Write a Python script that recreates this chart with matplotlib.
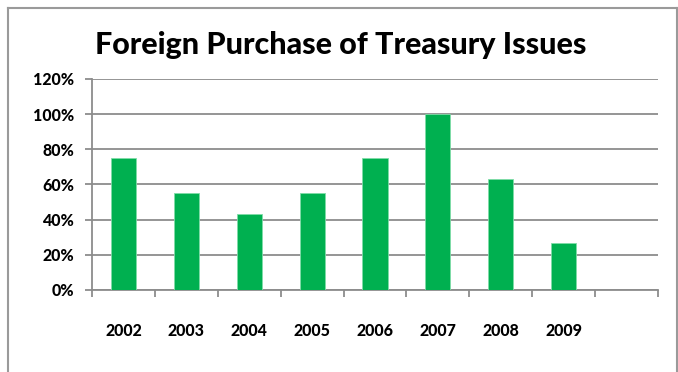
import matplotlib
matplotlib.use("Agg")
import matplotlib.pyplot as plt
import numpy as np

years = ["2002", "2003", "2004", "2005", "2006", "2007", "2008", "2009", ""]
values = [75, 55, 43, 55, 75, 100, 63, 27, None]
y_ticks = [0, 20, 40, 60, 80, 100, 120]
y_labels = [f"{t}%" for t in y_ticks]
title = "Foreign Purchase of Treasury Issues"

plt.rcParams['font.family'] = ['Lato', 'DejaVu Sans']

W, H = 678, 372
fig = plt.figure(figsize=(W / 100, H / 100), dpi=100)
fig.patch.set_facecolor("white")

# chart border (open at bottom)
grey = "#9a9a9a"
fig.add_artist(plt.Line2D([8 / W, 8 / W], [0, 1 - 7.5 / H], transform=fig.transFigure, color=grey, lw=1.5))
fig.add_artist(plt.Line2D([8 / W, 676.5 / W], [1 - 7.5 / H, 1 - 7.5 / H], transform=fig.transFigure, color=grey, lw=1.5))
fig.add_artist(plt.Line2D([676.5 / W, 676.5 / W], [0, 1 - 7.5 / H], transform=fig.transFigure, color=grey, lw=1.5))

left, right, top, bottom = 92, 658, 79, 290
ax = fig.add_axes([left / W, 1 - bottom / H, (right - left) / W, (bottom - top) / H])

n = len(years)
x = np.arange(n)
vals = [v if v is not None else 0 for v in values]
ax.bar(x[:8], vals[:8], width=0.4, color="#00B050", edgecolor="#7fdca8", linewidth=0.6, zorder=3)

ax.set_xlim(-0.5, n - 0.5)
ax.set_ylim(0, 120)
ax.set_yticks(y_ticks)
ax.set_yticklabels(y_labels, fontsize=11.5, fontweight="black")
ax.yaxis.grid(True, color="#8c8c8c", lw=1.3, zorder=0)
ax.set_axisbelow(True)

ax.set_xticks(np.arange(n + 1) - 0.5)
ax.set_xticklabels([])
ax.set_xticks(x, minor=True)
ax.set_xticklabels(years, minor=True, fontsize=11.5, fontweight="black")
ax.tick_params(axis="x", which="minor", length=0, pad=24)
ax.tick_params(axis="x", which="major", length=5, color="#8c8c8c", width=1.3)
ax.tick_params(axis="y", length=5, color="#8c8c8c", width=1.3, pad=8)

for s in ["top", "right"]:
    ax.spines[s].set_visible(False)
for s in ["left", "bottom"]:
    ax.spines[s].set_color("#8c8c8c")
    ax.spines[s].set_linewidth(1.3)

fig.text(341 / W, 1 - 45 / H, title, ha="center", va="center", fontsize=22, fontweight="black")

fig.savefig("out.png", dpi=100)
